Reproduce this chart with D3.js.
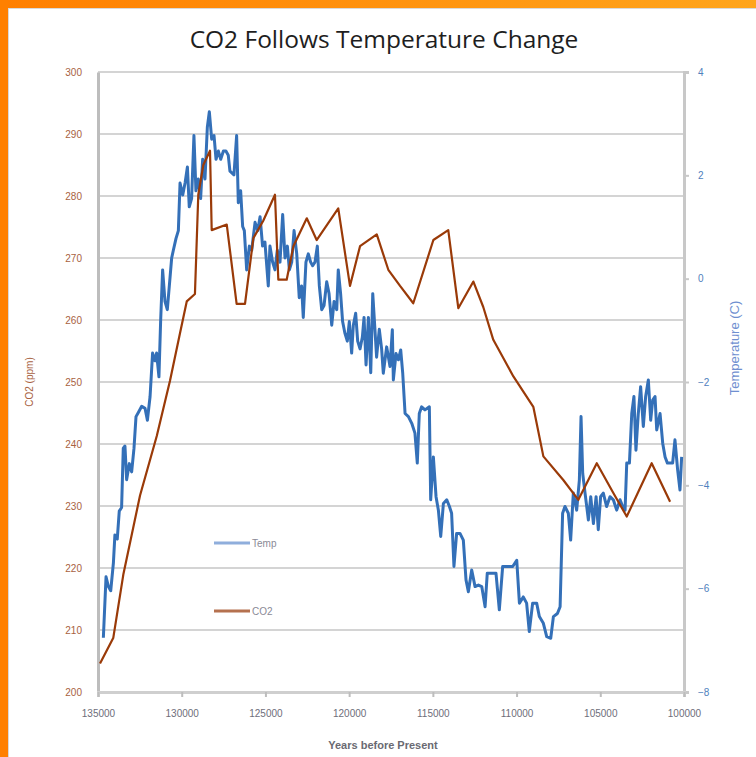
<!DOCTYPE html>
<html>
<head>
<meta charset="utf-8">
<script src="https://cdn.jsdelivr.net/npm/d3@7"></script>
<style>
  body { margin: 0; background: #ffffff; }
  #chart { width: 756px; height: 757px; }
</style>
</head>
<body>
<div id="chart"></div>
<script>
// Temperature series (years before present, degrees C)
const tempYears = [134680, 134520, 134380, 134240, 134080, 133990, 133850, 133730, 133590, 133490,
  133390, 133290, 133130, 132990, 132850, 132730, 132590, 132390, 132190, 132050,
  131890, 131740, 131600, 131500, 131360, 131260, 131140, 131000, 130860, 130740,
  130600, 130500, 130340, 130200, 130100, 129940, 129800, 129660, 129550, 129410,
  129270, 129150, 129010, 128870, 128750, 128610, 128470, 128350, 128210, 128070,
  127950, 127810, 127670, 127510, 127360, 127220, 127120, 126880, 126720, 126620,
  126480, 126360, 126260, 126120, 125960, 125820, 125620, 125460, 125320, 125170,
  125030, 124830, 124730, 124570, 124430, 124290, 124130, 123970, 123830, 123690,
  123570, 123430, 123290, 123130, 122980, 122840, 122740, 122580, 122440, 122300,
  122180, 122040, 121900, 121780, 121640, 121500, 121340, 121200, 121040, 120900,
  120740, 120650, 120510, 120390, 120250, 120110, 119990, 119850, 119750, 119610,
  119490, 119350, 119210, 119110, 118990, 118850, 118710, 118590, 118460, 118360,
  118200, 118060, 117960, 117760, 117560, 117420, 117360, 117200, 117060, 116920,
  116800, 116660, 116460, 116260, 116070, 115930, 115810, 115670, 115470, 115210,
  115130, 114970, 114810, 114670, 114530, 114370, 114170, 114010, 113880, 113740,
  113580, 113380, 113180, 113020, 112880, 112680, 112480, 112280, 112080, 111880,
  111750, 111490, 111230, 111030, 110830, 110550, 110230, 109990, 109830, 109600,
  109400, 109240, 109040, 108800, 108640, 108400, 108200, 107960, 107800, 107560,
  107400, 107250, 107110, 106910, 106770, 106610, 106410, 106250, 106150, 106050,
  105910, 105710, 105570, 105410, 105250, 105120, 104980, 104820, 104620, 104420,
  104220, 104020, 103820, 103660, 103520, 103420, 103260, 103120, 102990, 102870,
  102730, 102590, 102430, 102290, 102130, 101990, 101870, 101730, 101630, 101430,
  101270, 101130, 100990, 100830, 100680, 100540, 100380, 100240, 100140];
const tempValues = [-6.95, -5.77, -5.96, -6.04, -5.50, -4.96, -5.04, -4.50, -4.43, -3.28,
  -3.24, -3.89, -3.58, -3.74, -3.28, -2.67, -2.59, -2.47, -2.51, -2.74,
  -2.28, -1.44, -1.59, -1.44, -1.90, -0.83, 0.17, -0.44, -0.60, -0.14,
  0.40, 0.55, 0.78, 0.93, 1.85, 1.62, 1.85, 2.16, 1.39, 1.55,
  2.77, 1.70, 1.93, 1.55, 2.31, 1.93, 2.93, 3.23, 2.70, 2.77,
  2.31, 2.47, 2.31, 2.47, 2.47, 2.39, 2.08, 2.01, 2.77, 1.47,
  1.70, 1.01, 0.93, 0.17, 0.63, 0.55, 1.09, 0.93, 1.20, 0.63,
  0.71, -0.14, 0.63, 0.32, 0.17, 0.55, 0.32, 1.24, 0.40, 0.63,
  0.17, 0.32, 0.93, 0.48, -0.37, -0.14, -0.75, 0.32, 0.48, 0.32,
  0.25, 0.32, 0.63, -0.14, -0.60, -0.52, -0.06, -0.29, -0.90, -0.44,
  -0.60, 0.17, -0.29, -0.83, -1.06, -1.21, -0.83, -1.44, -0.90, -0.67,
  -1.21, -1.36, -1.13, -0.75, -1.67, -0.75, -1.82, -0.29, -0.98, -1.52,
  -0.98, -1.36, -1.83, -1.32, -1.70, -0.99, -1.96, -1.45, -1.57, -1.38,
  -1.83, -2.61, -2.67, -2.80, -2.99, -3.57, -2.61, -2.48, -2.54, -2.48,
  -4.28, -3.45, -4.22, -4.48, -4.99, -4.35, -4.28, -4.41, -4.54, -5.57,
  -4.93, -4.93, -5.06, -5.83, -6.06, -5.64, -5.96, -5.93, -5.96, -6.35,
  -5.70, -5.70, -5.70, -6.41, -5.57, -5.57, -5.57, -5.45, -6.28, -6.16,
  -6.28, -6.83, -6.28, -6.28, -6.54, -6.67, -6.93, -6.96, -6.54, -6.48,
  -6.35, -4.54, -4.41, -4.54, -5.06, -4.15, -4.48, -3.90, -2.67, -3.77,
  -4.15, -4.67, -4.22, -4.74, -4.22, -4.86, -4.22, -4.15, -4.41, -4.22,
  -4.28, -4.48, -4.28, -4.41, -4.48, -3.57, -3.57, -2.61, -2.28, -3.32,
  -2.61, -2.09, -2.86, -2.28, -1.96, -2.74, -2.35, -2.28, -2.93, -2.61,
  -3.19, -3.45, -3.57, -3.57, -3.57, -3.12, -3.70, -4.09, -3.45];

// CO2 series (years before present, ppm)
const co2Years = [134880, 134090, 133490, 132490, 131490, 130700, 130100, 129700, 129210, 129010,
  128710, 128310, 128210, 127310, 126720, 126220, 125720, 125130, 124430, 124230,
  123730, 123330, 122530, 121940, 120650, 119950, 119350, 118350, 117660, 116960,
  116170, 114970, 114080, 113480, 112580, 111990, 111390, 110190, 109000, 108400,
  107210, 106310, 105210, 104220, 103420, 101930, 100830];
const co2Values = [204.6, 208.7, 218.9, 231.7, 241.3, 250.2, 257.9, 263.0, 264.2, 280.2,
  285.0, 287.3, 274.5, 275.4, 262.6, 262.6, 273.2, 276.0, 280.2, 266.5,
  266.5, 271.9, 276.4, 272.9, 278.0, 265.5, 271.9, 273.8, 268.1, 265.5,
  262.7, 272.9, 274.5, 261.9, 266.2, 262.1, 256.8, 250.9, 246.0, 238.0,
  234.2, 231.0, 236.9, 232.1, 228.3, 236.9, 230.7];

// Axis ticks
const yearTicks = [135000, 130000, 125000, 120000, 115000, 110000, 105000, 100000];
const co2Ticks = [200, 210, 220, 230, 240, 250, 260, 270, 280, 290, 300];
const tempTicks = [-8, -6, -4, -2, 0, 2, 4];

function init() {
  const W = 756, H = 757;
  const plot = { left: 98, right: 684, top: 72, bottom: 692 };

  const blue = "#3470B8";
  const brown = "#9A3A08";
  const font = "'Liberation Sans', Arial, sans-serif";

  const svg = d3.select("#chart")
    .append("svg")
    .attr("width", W)
    .attr("height", H);

  // orange frame of the slide
  const grad = svg.append("defs").append("linearGradient")
    .attr("id", "topband").attr("x1", "0").attr("x2", "1");
  grad.append("stop").attr("offset", "0").attr("stop-color", "#FF7F00");
  grad.append("stop").attr("offset", "1").attr("stop-color", "#FFA51C");

  svg.append("rect").attr("x", 0).attr("y", 0).attr("width", W).attr("height", 8)
    .style("fill", "url(#topband)");
  svg.append("rect").attr("x", 0).attr("y", 0).attr("width", 8).attr("height", H)
    .style("fill", "#FF8000");
  svg.append("rect").attr("x", 8.5).attr("y", 8.5).attr("width", W - 8).attr("height", H - 8)
    .style("fill", "#ffffff").style("stroke", "#D9D9D9").style("stroke-width", 1);

  // scales
  const x = d3.scaleLinear().domain([135000, 100000]).range([plot.left, plot.right]);
  const yCo2 = d3.scaleLinear().domain([200, 300]).range([plot.bottom, plot.top]);
  const yTemp = d3.scaleLinear().domain([-8, 4]).range([plot.bottom, plot.top]);

  // gridlines
  svg.append("g")
    .selectAll("line")
    .data(co2Ticks)
    .enter()
    .append("line")
    .attr("x1", plot.left)
    .attr("x2", plot.right)
    .attr("y1", d => yCo2(d))
    .attr("y2", d => yCo2(d))
    .style("stroke", "#D4D4D4")
    .style("stroke-width", 2);

  // left axis (CO2)
  const leftAxis = svg.append("g")
    .attr("transform", `translate(${plot.left},0)`)
    .call(d3.axisLeft(yCo2).tickValues(co2Ticks).tickSize(0).tickPadding(16).tickFormat(d3.format("d")));
  leftAxis.select(".domain").style("stroke", "#BDBDBD").style("stroke-width", 3);
  leftAxis.selectAll("text").style("fill", "#A8623F").style("font-family", font).style("font-size", "10px");

  // right axis (temperature)
  const rightAxis = svg.append("g")
    .attr("transform", `translate(${plot.right},0)`)
    .call(d3.axisRight(yTemp).tickValues(tempTicks).tickSize(5).tickPadding(9));
  rightAxis.select(".domain").style("stroke", "#C8C8C8").style("stroke-width", 3);
  rightAxis.selectAll("line").style("stroke", "#C8C8C8").style("stroke-width", 2);
  rightAxis.selectAll("text").style("fill", "#4F81BD").style("font-family", font).style("font-size", "10px");

  // bottom axis
  const bottomAxis = svg.append("g")
    .attr("transform", `translate(0,${plot.bottom})`)
    .call(d3.axisBottom(x).tickValues(yearTicks).tickSize(5).tickPadding(13).tickFormat(d3.format("d")));
  bottomAxis.select(".domain").style("stroke", "#CFCFCF").style("stroke-width", 3);
  bottomAxis.selectAll("line").style("stroke", "#BDBDBD").style("stroke-width", 2);
  bottomAxis.selectAll("text").style("fill", "#6E6E7A").style("font-family", font).style("font-size", "10px");

  // lines
  const tempData = tempYears.map((yr, i) => ({ yr: yr, v: tempValues[i] }));
  const co2Data = co2Years.map((yr, i) => ({ yr: yr, v: co2Values[i] }));

  svg.append("path")
    .datum(tempData)
    .attr("d", d3.line().x(d => x(d.yr)).y(d => yTemp(d.v)))
    .style("fill", "none")
    .style("stroke", blue)
    .style("stroke-width", 3)
    .style("stroke-linejoin", "round");

  svg.append("path")
    .datum(co2Data)
    .attr("d", d3.line().x(d => x(d.yr)).y(d => yCo2(d.v)))
    .style("fill", "none")
    .style("stroke", brown)
    .style("stroke-width", 2.2)
    .style("stroke-linejoin", "round");

  // legend
  const legend = [
    { name: "Temp", color: "#8FAEDC", y: 543 },
    { name: "CO2", color: "#B5714F", y: 611 }
  ];
  const lg = svg.append("g");
  lg.selectAll("line")
    .data(legend)
    .enter()
    .append("line")
    .attr("x1", 214).attr("x2", 250)
    .attr("y1", d => d.y).attr("y2", d => d.y)
    .style("stroke", d => d.color)
    .style("stroke-width", 3);
  lg.selectAll("text")
    .data(legend)
    .enter()
    .append("text")
    .attr("x", 252)
    .attr("y", d => d.y)
    .attr("dy", "0.35em")
    .text(d => d.name)
    .style("font-family", font)
    .style("font-size", "10px")
    .style("fill", "#8A8A96");

  // titles
  svg.append("text")
    .attr("x", 384).attr("y", 48)
    .attr("text-anchor", "middle")
    .text("CO2 Follows Temperature Change")
    .style("font-family", "'Open Sans', sans-serif")
    .style("font-size", "24.5px")
    .style("font-weight", "500")
    .style("fill", "#1E1E1E");

  svg.append("text")
    .attr("transform", "translate(33,382) rotate(-90)")
    .attr("text-anchor", "middle")
    .text("CO2 (ppm)")
    .style("font-family", font)
    .style("font-size", "10px")
    .style("fill", "#A8623F");

  svg.append("text")
    .attr("transform", "translate(739,348) rotate(-90)")
    .attr("text-anchor", "middle")
    .text("Temperature (C)")
    .style("font-family", font)
    .style("font-size", "13px")
    .style("fill", "#6F8FD0");

  svg.append("text")
    .attr("x", 383).attr("y", 749)
    .attr("text-anchor", "middle")
    .text("Years before Present")
    .style("font-family", font)
    .style("font-size", "11px")
    .style("font-weight", "bold")
    .style("fill", "#6A6A72");
}

window.onload = init;
</script>
</body>
</html>
